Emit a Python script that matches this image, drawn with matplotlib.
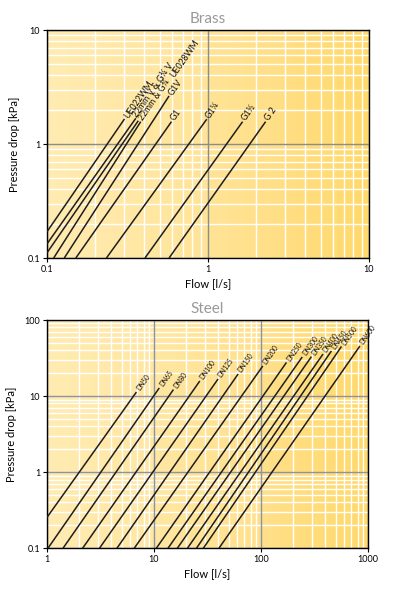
import numpy as np
import matplotlib
matplotlib.use("Agg")
import matplotlib.pyplot as plt
from matplotlib import ticker
from matplotlib.colors import LinearSegmentedColormap

# ---------------- data ----------------
brass_labels = ["UE022WM", "22mm V & G¾ V", "22mm & G¾", "UE028WM",
                "G1V", "G1", "G1¼", "G1½", "G 2"]
brass_q_start = [0.1, 0.1, 0.1, 0.110, 0.128, 0.151, 0.234, 0.406, 0.573]
brass_dp_start = [0.170, 0.133, 0.111, 0.1, 0.1, 0.1, 0.1, 0.1, 0.1]
brass_q_end = [0.303, 0.356, 0.369, 0.382, 0.573, 0.593, 0.982, 1.64, 2.28]
brass_dp_end = [1.66, 1.68, 1.60, 1.57, 2.64, 1.57, 1.65, 1.57, 1.57]

steel_labels = ["DN50", "DN65", "DN80", "DN100", "DN125", "DN150", "DN200",
                "DN250", "DN300", "DN350", "DN400", "DN450", "DN500", "DN600"]
steel_q_start = [1.0, 1.02, 1.41, 2.15, 3.09, 4.50, 6.53,
                 10.5, 13.5, 16.5, 20.5, 24.9, 28.9, 40.4]
steel_dp_start = [0.255, 0.1, 0.1, 0.1, 0.1, 0.1, 0.1,
                  0.1, 0.1, 0.1, 0.1, 0.1, 0.1, 0.1]
steel_q_end = [6.85, 11.2, 15.2, 26.8, 39.7, 61.1, 104,
               173, 243, 296, 380, 455, 565, 840]
steel_dp_end = [11.3, 12.8, 12.2, 15.8, 16.8, 19.5, 24.9,
                27.7, 32.7, 33.0, 35.7, 39.2, 44.9, 45.5]

FONT = ["Lato", "DejaVu Sans"]
plt.rcParams["font.family"] = FONT

bg_cmap = LinearSegmentedColormap.from_list(
    "bg", ["#FFEBB2", "#FFE7A2", "#FFE08A", "#FFD96A"])


def set_log(ax, xlim, ylim):
    ax.set_xscale("log")
    ax.set_yscale("log")
    ax.set_xlim(*xlim)
    ax.set_ylim(*ylim)
    ax.xaxis.set_minor_locator(ticker.LogLocator(base=10, subs=np.arange(2, 10)))
    ax.yaxis.set_minor_locator(ticker.LogLocator(base=10, subs=np.arange(2, 10)))
    ax.xaxis.set_minor_formatter(ticker.NullFormatter())
    ax.yaxis.set_minor_formatter(ticker.NullFormatter())


def panel(fig, rect, title, xlim, ylim, labels, q0, dp0, q1, dp1,
          lab_size, gaps, perps, major_col):
    # gradient background
    bg = fig.add_axes(rect, zorder=0)
    bg.imshow(np.linspace(0, 1, 256).reshape(1, -1), extent=[0, 1, 0, 1],
              aspect="auto", cmap=bg_cmap, interpolation="bilinear")
    bg.set_axis_off()

    # white minor grid layer
    gl = fig.add_axes(rect, zorder=1)
    gl.set_facecolor("none")
    set_log(gl, xlim, ylim)
    gl.grid(which="minor", color="white", lw=1.0)
    gl.tick_params(which="both", length=0, labelbottom=False, labelleft=False)
    for s in gl.spines.values():
        s.set_visible(False)

    ax = fig.add_axes(rect, zorder=2)
    ax.set_facecolor("none")
    set_log(ax, xlim, ylim)
    fmt = ticker.FuncFormatter(lambda v, _: f"{v:g}")
    ax.xaxis.set_major_formatter(fmt)
    ax.yaxis.set_major_formatter(fmt)

    ax.grid(which="major", color=major_col, lw=1.0)
    ax.set_axisbelow(True)
    ax.tick_params(which="minor", length=0)
    ax.tick_params(which="major", length=3, width=0.8, labelsize=6.5,
                   pad=2, color="black")
    for s in ax.spines.values():
        s.set_color("black")
        s.set_linewidth(1.0)

    ang = np.radians(55)
    for lab, a0, b0, a1, b1, g, p in zip(labels, q0, dp0, q1, dp1, gaps, perps):
        ax.plot([a0, a1], [b0, b1], color="#1e1e1e", lw=1.1,
                solid_capstyle="butt", zorder=3, clip_on=True)
        off = (g * np.cos(ang) + p * np.sin(ang),
               g * np.sin(ang) - p * np.cos(ang))
        ax.annotate(lab, xy=(a1, b1), xytext=off,
                    textcoords="offset points", rotation=55,
                    rotation_mode="anchor", ha="left", va="center",
                    fontsize=lab_size, color="#111111", zorder=4)

    ax.set_title(title, color="#999999", fontsize=11, pad=5)
    ax.set_xlabel("Flow [l/s]", fontsize=8, labelpad=3)
    ax.set_ylabel("Pressure drop [kPa]", fontsize=8, labelpad=5)
    return ax


fig = plt.figure(figsize=(3.98, 5.90), dpi=100)
fig.patch.set_facecolor("white")

W, H = 398.0, 590.0
brass_rect = [47 / W, 1 - 258 / H, 322 / W, 228 / H]
steel_rect = [47 / W, 1 - 548.3 / H, 321 / W, 228.3 / H]

brass_gaps = [1.5, 1.0, 1.5, 40, 1.5, 1.5, 1.5, 1.5, 1.5]
brass_perps = [0, -1.2, 1.2, 0, 0, 0, 0, 0, 0]
steel_gaps = [2.0] * len(steel_labels)
steel_perps = [0] * len(steel_labels)

panel(fig, brass_rect, "Brass", (0.1, 10), (0.1, 10), brass_labels,
      brass_q_start, brass_dp_start, brass_q_end, brass_dp_end,
      6.3, brass_gaps, brass_perps, "#8c8c8c")
panel(fig, steel_rect, "Steel", (1, 1000), (0.1, 100), steel_labels,
      steel_q_start, steel_dp_start, steel_q_end, steel_dp_end,
      4.8, steel_gaps, steel_perps, "#8a93a8")

fig.savefig("out.png", dpi=100)
